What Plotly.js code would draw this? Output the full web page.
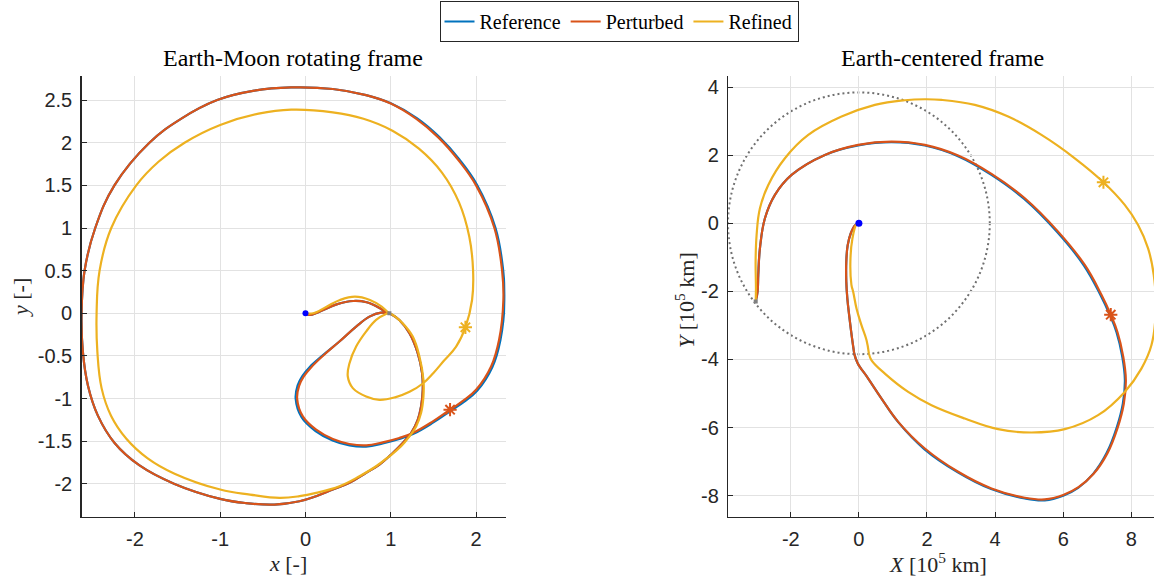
<!DOCTYPE html>
<html>
<head>
<meta charset="utf-8">
<script src="https://cdn.plot.ly/plotly-3.0.1.min.js"></script>
<style>
  html, body { margin: 0; padding: 0; background: #fff; }
  #chart { width: 1154px; height: 581px; }
</style>
</head>
<body>
<div id="chart"></div>
<script>
// ---- Earth-Moon rotating frame (nondimensional units) ----
const refRotX = [0, 0.053, 0.13, 0.209, 0.365, 0.56, 0.717, 0.873, 0.951, 1.02, 1.10, 1.219, 1.316, 1.367, 1.375, 1.355, 1.316, 1.238, 1.14, 1.023, 0.867, 0.711, 0.516, 0.32, 0.125, -0.07, -0.363, -0.7, -1.0, -1.535, -1.95, -2.238, -2.434, -2.55, -2.61, -2.625, -2.59, -2.465, -2.24, -1.83, -1.46, -1.035, -0.6, -0.17, 0.32, 0.711, 1.0, 1.31, 1.57, 1.802, 2.012, 2.228, 2.318, 2.335, 2.285, 2.19, 2.012, 1.858, 1.702, 1.495, 1.26, 1.10, 0.906, 0.711, 0.516, 0.318, 0.118, -0.046, -0.115, -0.092, -0.035, 0.048, 0.195, 0.398, 0.594, 0.75, 0.887, 0.96];
const refRotY = [0, -0.02, 0.005, 0.039, 0.105, 0.144, 0.129, 0.059, 0.007, -0.02, -0.078, -0.234, -0.468, -0.702, -0.897, -1.092, -1.248, -1.404, -1.52, -1.637, -1.774, -1.871, -1.988, -2.066, -2.144, -2.203, -2.242, -2.225, -2.175, -2.0, -1.78, -1.52, -1.2, -0.85, -0.45, 0.0, 0.5, 1.0, 1.5, 2.0, 2.28, 2.5, 2.61, 2.648, 2.63, 2.558, 2.462, 2.285, 2.066, 1.806, 1.505, 1.0, 0.5, 0.156, -0.315, -0.632, -0.908, -1.037, -1.143, -1.282, -1.416, -1.474, -1.526, -1.562, -1.548, -1.49, -1.38, -1.218, -1.0, -0.845, -0.733, -0.632, -0.5, -0.331, -0.156, -0.039, 0.008, 0.0];

const pertRotX = [0, 0.053, 0.13, 0.209, 0.365, 0.56, 0.717, 0.873, 0.951, 1.02, 1.10, 1.219, 1.316, 1.367, 1.375, 1.355, 1.316, 1.238, 1.14, 1.023, 0.867, 0.711, 0.516, 0.32, 0.125, -0.07, -0.363, -0.7, -1.0, -1.535, -1.95, -2.238, -2.434, -2.55, -2.61, -2.625, -2.59, -2.465, -2.24, -1.83, -1.46, -1.035, -0.6, -0.17, 0.32, 0.711, 1.0, 1.3, 1.56, 1.79, 2.0, 2.215, 2.305, 2.32, 2.27, 2.176, 2.0, 1.85, 1.695, 1.49, 1.258, 1.10, 0.906, 0.711, 0.516, 0.32, 0.125, -0.031, -0.098, -0.075, -0.02, 0.06, 0.203, 0.398, 0.594, 0.75, 0.887, 0.96];
const pertRotY = [0, -0.02, 0.005, 0.039, 0.105, 0.144, 0.129, 0.059, 0.007, -0.02, -0.078, -0.234, -0.468, -0.702, -0.897, -1.092, -1.248, -1.404, -1.52, -1.637, -1.774, -1.871, -1.988, -2.066, -2.144, -2.203, -2.242, -2.225, -2.175, -2.0, -1.78, -1.52, -1.2, -0.85, -0.45, 0.0, 0.5, 1.0, 1.5, 2.0, 2.28, 2.5, 2.61, 2.648, 2.63, 2.558, 2.46, 2.28, 2.06, 1.8, 1.5, 1.0, 0.5, 0.156, -0.31, -0.624, -0.897, -1.025, -1.13, -1.27, -1.404, -1.462, -1.513, -1.548, -1.532, -1.474, -1.365, -1.209, -1.0, -0.85, -0.74, -0.64, -0.5, -0.331, -0.156, -0.039, 0.008, 0.0];

const refinRotX = [0, 0.09, 0.248, 0.404, 0.58, 0.756, 0.893, 0.97, 1.04, 1.14, 1.258, 1.336, 1.383, 1.383, 1.355, 1.297, 1.219, 1.121, 0.984, 0.828, 0.633, 0.398, 0.125, -0.07, -0.305, -0.65, -1.0, -1.535, -1.85, -2.1, -2.28, -2.39, -2.44, -2.449, -2.414, -2.277, -1.984, -1.72, -1.418, -1.0, -0.55, -0.168, 0.32, 0.68, 1.02, 1.33, 1.6, 1.8, 1.92, 1.965, 1.953, 1.875, 1.766, 1.62, 1.50, 1.38, 1.22, 1.05, 0.867, 0.711, 0.555, 0.496, 0.516, 0.594, 0.711, 0.828, 0.96];
const refinRotY = [0, 0.0, 0.078, 0.156, 0.195, 0.156, 0.078, 0.01, -0.03, -0.117, -0.273, -0.507, -0.78, -0.975, -1.17, -1.326, -1.443, -1.559, -1.676, -1.793, -1.91, -2.027, -2.105, -2.144, -2.164, -2.125, -2.066, -1.88, -1.70, -1.47, -1.2, -0.88, -0.45, 0.0, 0.5, 1.0, 1.5, 1.78, 2.0, 2.208, 2.34, 2.387, 2.356, 2.28, 2.14, 1.93, 1.65, 1.3, 0.9, 0.5, 0.156, -0.164, -0.39, -0.56, -0.70, -0.82, -0.92, -0.985, -1.014, -0.975, -0.877, -0.741, -0.585, -0.39, -0.214, -0.078, 0.0];

// ---- Earth-centered frame (10^5 km) ----
const refInX = [0, -0.11, -0.24, -0.33, -0.37, -0.37, -0.34, -0.28, -0.2, -0.137, -0.04, 0.274, 0.665, 1.155, 1.92, 2.905, 3.885, 4.873, 5.46, 6.0, 6.44, 6.88, 7.275, 7.572, 7.752, 7.812, 7.733, 7.566, 7.37, 7.098, 6.61, 5.83, 4.855, 3.88, 2.91, 1.937, 0.959, -0.02, -0.998, -1.977, -2.466, -2.759, -2.906, -2.955, -2.975, -3.03];
const refInY = [0, -0.06, -0.3, -0.65, -1.13, -1.71, -2.2, -2.75, -3.39, -3.828, -4.1, -4.56, -5.148, -5.84, -6.63, -7.312, -7.805, -8.082, -8.135, -8.0, -7.77, -7.36, -6.75, -6.0, -5.3, -4.6, -3.905, -3.2, -2.692, -2.112, -1.24, -0.265, 0.715, 1.43, 1.972, 2.285, 2.385, 2.288, 2.008, 1.42, 0.833, 0.147, -0.735, -1.518, -2.008, -2.3];

const pertInX = [0, -0.11, -0.24, -0.33, -0.37, -0.37, -0.34, -0.28, -0.2, -0.137, -0.04, 0.274, 0.665, 1.155, 1.937, 2.916, 3.894, 4.873, 5.46, 6.0, 6.45, 6.9, 7.3, 7.6, 7.78, 7.84, 7.76, 7.593, 7.397, 7.123, 6.634, 5.851, 4.873, 3.894, 2.916, 1.937, 0.959, -0.02, -0.998, -1.977, -2.466, -2.759, -2.906, -2.955, -2.975, -3.03];
const pertInY = [0, -0.06, -0.3, -0.65, -1.13, -1.71, -2.2, -2.75, -3.39, -3.828, -4.1, -4.56, -5.148, -5.832, -6.614, -7.298, -7.787, -8.06, -8.11, -7.98, -7.75, -7.35, -6.75, -6.0, -5.3, -4.6, -3.9, -3.193, -2.684, -2.1, -1.224, -0.245, 0.735, 1.45, 1.99, 2.302, 2.4, 2.302, 2.008, 1.42, 0.833, 0.147, -0.735, -1.518, -2.008, -2.3];

const refinInX = [0, -0.07, -0.19, -0.25, -0.22, -0.166, -0.068, 0.078, 0.225, 0.294, 0.372, 0.763, 1.448, 2.133, 3.112, 4.09, 5.068, 6.047, 7.025, 7.808, 8.297, 8.591, 8.72, 8.66, 8.493, 8.2, 7.808, 7.182, 6.341, 5.362, 4.384, 3.405, 2.427, 1.937, 1.35, 0.47, -0.509, -1.487, -2.172, -2.661, -2.906, -3.004, -3.033, -3.023, -3.03];
const refinInY = [0, -0.03, -0.45, -1.13, -1.8, -2.02, -2.508, -2.997, -3.437, -3.828, -4.023, -4.414, -4.952, -5.343, -5.734, -6.047, -6.145, -6.047, -5.636, -4.952, -4.268, -3.584, -2.55, -1.518, -0.735, -0.049, 0.539, 1.205, 1.91, 2.595, 3.134, 3.477, 3.624, 3.643, 3.614, 3.477, 3.134, 2.595, 1.91, 1.126, 0.441, -0.343, -1.126, -1.91, -2.3];

// '*' markers (maneuver points) on the perturbed and refined arcs
const starPertRot = [1.695, -1.13], starRefinRot = [1.875, -0.164];
const starPertIn = [7.397, -2.684], starRefinIn = [7.182, 1.205];

const flybyIdx = 9;                  // sample of the lunar flyby in the Earth-centered arrays
const moonRot = [0.984, 0];          // Moon in the rotating frame
const moonOrbitR = 3.844;            // Moon orbit radius, 10^5 km

const C_REF = '#0072BD', C_PERT = '#D95319', C_REFIN = '#EDB120';
const SERIF = 'Liberation Serif, Times New Roman, serif';
const SANS = 'Liberation Sans, Arial, sans-serif';
const INK = '#262626';

function curve(x, y, color, name, xa, ya, show) {
  return {
    type: 'scatter', mode: 'lines', x: x, y: y, xaxis: xa, yaxis: ya,
    name: name, legendgroup: name, showlegend: show, hoverinfo: 'skip',
    line: { color: color, width: 2.2, shape: 'spline', smoothing: 1.15, simplify: false }
  };
}
function split(x, y, color, name) {
  return [
    curve(x.slice(0, flybyIdx + 1), y.slice(0, flybyIdx + 1), color, name, 'x2', 'y2', false),
    curve(x.slice(flybyIdx), y.slice(flybyIdx), color, name, 'x2', 'y2', false)
  ];
}
function pt(p, color, symbol, size, xa, ya, lw) {
  return {
    type: 'scatter', mode: 'markers', x: [p[0]], y: [p[1]], xaxis: xa, yaxis: ya,
    showlegend: false, hoverinfo: 'skip',
    marker: { color: color, symbol: symbol, size: size, line: { color: color, width: lw || 0 } }
  };
}
const last = a => a[a.length - 1];

const data = [
  curve(refRotX, refRotY, C_REF, 'Reference', 'x', 'y', true),
  curve(pertRotX, pertRotY, C_PERT, 'Perturbed', 'x', 'y', true),
  curve(refinRotX, refinRotY, C_REFIN, 'Refined', 'x', 'y', true),
  ...split(refInX, refInY, C_REF, 'Reference'),
  ...split(pertInX, pertInY, C_PERT, 'Perturbed'),
  ...split(refinInX, refinInY, C_REFIN, 'Refined'),
  pt(starPertRot, C_PERT, 'asterisk-open', 11, 'x', 'y', 2),
  pt(starRefinRot, C_REFIN, 'asterisk-open', 11, 'x', 'y', 2),
  pt(starPertIn, C_PERT, 'asterisk-open', 11, 'x2', 'y2', 2),
  pt(starRefinIn, C_REFIN, 'asterisk-open', 11, 'x2', 'y2', 2),
  pt([0, 0], '#0000FF', 'circle', 6, 'x', 'y'),
  pt(moonRot, '#808080', 'square', 4, 'x', 'y'),
  pt([0, 0], '#0000FF', 'circle', 7, 'x2', 'y2'),
  pt([last(refinInX), last(refinInY)], '#808080', 'square', 4, 'x2', 'y2')
];

function axis(domain, range, vals, anchor) {
  return {
    domain: domain, range: range, anchor: anchor,
    tickmode: 'array', tickvals: vals, ticktext: vals.map(v => String(v)),
    showgrid: true, gridcolor: '#e2e2e2', gridwidth: 1, zeroline: false,
    showline: true, linecolor: INK, linewidth: 1.3, mirror: false,
    ticks: 'inside', ticklen: 5, tickwidth: 1, tickcolor: INK,
    tickfont: { family: SANS, size: 20, color: INK }, ticklabelstandoff: 4,
    fixedrange: true
  };
}
const yDom = [1 - 517 / 581, 1 - 76 / 581];

const layout = {
  width: 1154, height: 581, autosize: false,
  margin: { l: 0, r: 0, t: 0, b: 0, pad: 0 },
  paper_bgcolor: '#fff', plot_bgcolor: '#fff',
  xaxis: axis([81.5 / 1154, 505.5 / 1154], [-2.626, 2.345], [-2, -1, 0, 1, 2], 'y'),
  yaxis: axis(yDom, [-2.388, 2.782], [-2, -1.5, -1, -0.5, 0, 0.5, 1, 1.5, 2, 2.5], 'x'),
  xaxis2: axis([728.2 / 1154, 1], [-3.838, 8.667], [-2, 0, 2, 4, 6, 8], 'y2'),
  yaxis2: axis(yDom, [-8.626, 4.326], [-8, -6, -4, -2, 0, 2, 4], 'x2'),
  shapes: [{
    type: 'circle', xref: 'x2', yref: 'y2', layer: 'below',
    x0: -moonOrbitR, x1: moonOrbitR, y0: -moonOrbitR, y1: moonOrbitR,
    line: { color: '#707070', width: 2, dash: '2px,3px' }
  }],
  legend: {
    orientation: 'h', x: 619 / 1154, xanchor: 'center', y: 1 - 1 / 581, yanchor: 'top',
    bgcolor: '#fff', bordercolor: INK, borderwidth: 1,
    font: { family: SERIF, size: 20, color: '#000' }
  },
  annotations: [
    { text: 'Earth-Moon rotating frame', xref: 'paper', yref: 'paper', x: 293 / 1154, y: 1 - 58 / 581,
      xanchor: 'center', yanchor: 'middle', showarrow: false, font: { family: SERIF, size: 24, color: '#000' } },
    { text: 'Earth-centered frame', xref: 'paper', yref: 'paper', x: 942 / 1154, y: 1 - 58 / 581,
      xanchor: 'center', yanchor: 'middle', showarrow: false, font: { family: SERIF, size: 24, color: '#000' } },
    { text: '<i>x</i> [-]', xref: 'paper', yref: 'paper', x: 288 / 1154, y: 1 - 563 / 581,
      xanchor: 'center', yanchor: 'middle', showarrow: false, font: { family: SERIF, size: 22, color: INK } },
    { text: '<i>y</i> [-]', xref: 'paper', yref: 'paper', x: 20 / 1154, y: 1 - 298 / 581, textangle: -90,
      xanchor: 'center', yanchor: 'middle', showarrow: false, font: { family: SERIF, size: 22, color: INK } },
    { text: '<i>X</i> [10<sup>5</sup> km]', xref: 'paper', yref: 'paper', x: 938 / 1154, y: 1 - 563 / 581,
      xanchor: 'center', yanchor: 'middle', showarrow: false, font: { family: SERIF, size: 22, color: INK } },
    { text: '<i>Y</i> [10<sup>5</sup> km]', xref: 'paper', yref: 'paper', x: 685 / 1154, y: 1 - 300 / 581, textangle: -90,
      xanchor: 'center', yanchor: 'middle', showarrow: false, font: { family: SERIF, size: 22, color: INK } }
  ]
};

Plotly.newPlot('chart', data, layout, { staticPlot: true, displayModeBar: false });
</script>
</body>
</html>
